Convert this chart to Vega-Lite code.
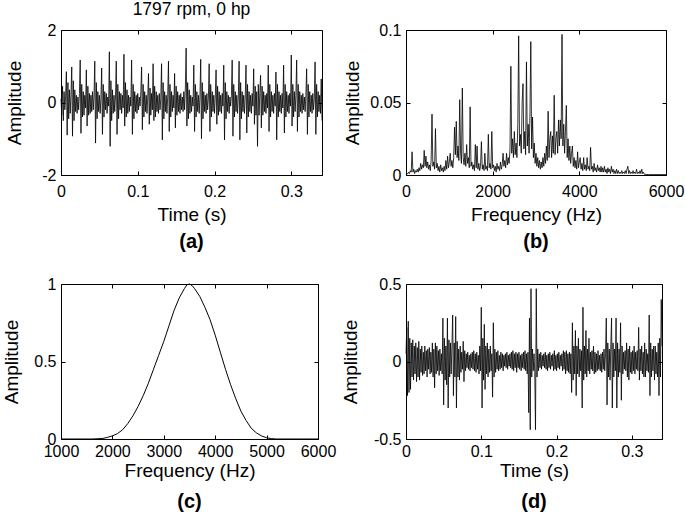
{
"$schema": "https://vega.github.io/schema/vega-lite/v6.json",
"padding": {"left": 1, "top": 0, "right": 2, "bottom": 2},
"bounds": "flush",
"columns": 2,
"spacing": {"row": 109, "column": 84},
"config": {
  "font": "Liberation Sans",
  "view": {"stroke": null},
  "axis": {"grid": false, "domainColor": "black", "domainWidth": 1, "tickColor": "black", "tickWidth": 1, "tickSize": -4,
           "labelColor": "black", "titleColor": "black", "labelFont": "Liberation Sans", "titleFont": "Liberation Sans",
           "labelFontSize": 16, "titleFontSize": 19, "titleFontWeight": "normal", "labelFlush": false, "labelOverlap": false,
           "labelExpr": "'' + datum.value"},
  "axisX": {"labelPadding": 12, "titlePadding": 6},
  "axisY": {"labelPadding": 9, "titleBaseline": "bottom"}
},
"title": {"text": "1797 rpm, 0 hp", "anchor": "start", "align": "center", "dx": 130.5, "frame": "group", "fontSize": 17.5, "fontWeight": "normal", "baseline": "alphabetic", "offset": -10, "color": "black", "font": "Liberation Sans"},
"datasets": {
"a": [{"t":0,"v":0.1},{"t":0.001,"v":-0.35},{"t":0.002,"v":0.45},{"t":0.003,"v":-0.5},{"t":0.004,"v":0.3},{"t":0.005,"v":-0.2},{"t":0.006,"v":0.15},{"t":0.007,"v":0.85},{"t":0.008,"v":-0.9},{"t":0.009,"v":0.55},
{"t":0.01,"v":-0.45},{"t":0.011,"v":0.35},{"t":0.012,"v":-0.3},{"t":0.013,"v":0.2},{"t":0.014,"v":0.98},{"t":0.015,"v":-0.93},{"t":0.016,"v":0.6},{"t":0.017,"v":-0.5},{"t":0.018,"v":0.35},{"t":0.019,"v":-0.25},
{"t":0.02,"v":0.2},{"t":0.021,"v":-0.3},{"t":0.022,"v":0.15},{"t":0.023,"v":-0.2},{"t":0.024,"v":0.25},{"t":0.025,"v":1.17},{"t":0.026,"v":-0.85},{"t":0.027,"v":0.5},{"t":0.028,"v":-0.4},{"t":0.029,"v":0.3},
{"t":0.03,"v":-0.35},{"t":0.031,"v":0.2},{"t":0.032,"v":-0.15},{"t":0.033,"v":0.9},{"t":0.034,"v":-0.65},{"t":0.035,"v":0.45},{"t":0.036,"v":-0.35},{"t":0.037,"v":0.25},{"t":0.038,"v":-0.3},{"t":0.039,"v":0.2},
{"t":0.04,"v":-0.25},{"t":0.041,"v":0.3},{"t":0.042,"v":-0.2},{"t":0.043,"v":0.15},{"t":0.044,"v":1.14},{"t":0.045,"v":-1.12},{"t":0.046,"v":0.55},{"t":0.047,"v":-0.45},{"t":0.048,"v":0.3},{"t":0.049,"v":-0.25},
{"t":0.05,"v":0.2},{"t":0.051,"v":-0.3},{"t":0.052,"v":0.1},{"t":0.053,"v":0.95},{"t":0.054,"v":-0.88},{"t":0.055,"v":0.5},{"t":0.056,"v":-0.4},{"t":0.057,"v":0.3},{"t":0.058,"v":-0.2},{"t":0.059,"v":0.25},
{"t":0.06,"v":-0.3},{"t":0.061,"v":0.15},{"t":0.062,"v":-0.1},{"t":0.063,"v":1.4},{"t":0.064,"v":-1.21},{"t":0.065,"v":0.6},{"t":0.066,"v":-0.5},{"t":0.067,"v":0.35},{"t":0.068,"v":-0.3},{"t":0.069,"v":0.2},
{"t":0.07,"v":-0.25},{"t":0.071,"v":0.15},{"t":0.072,"v":1.14},{"t":0.073,"v":-0.88},{"t":0.074,"v":0.5},{"t":0.075,"v":-0.45},{"t":0.076,"v":0.3},{"t":0.077,"v":-0.2},{"t":0.078,"v":0.25},{"t":0.079,"v":-0.3},
{"t":0.08,"v":0.2},{"t":0.081,"v":-0.15},{"t":0.082,"v":1.33},{"t":0.083,"v":-0.65},{"t":0.084,"v":0.55},{"t":0.085,"v":-0.4},{"t":0.086,"v":0.35},{"t":0.087,"v":-0.3},{"t":0.088,"v":0.2},{"t":0.089,"v":-0.25},
{"t":0.09,"v":0.15},{"t":0.091,"v":-0.1},{"t":0.092,"v":1.17},{"t":0.093,"v":-0.88},{"t":0.094,"v":0.5},{"t":0.095,"v":-0.45},{"t":0.096,"v":0.3},{"t":0.097,"v":-0.25},{"t":0.098,"v":0.2},{"t":0.099,"v":-0.3},
{"t":0.1,"v":0.25},{"t":0.101,"v":-0.2},{"t":0.102,"v":0.15},{"t":0.103,"v":-0.1},{"t":0.104,"v":0.3},{"t":0.105,"v":0.98},{"t":0.106,"v":-0.75},{"t":0.107,"v":0.5},{"t":0.108,"v":-0.4},{"t":0.109,"v":0.3},
{"t":0.11,"v":-0.25},{"t":0.111,"v":0.2},{"t":0.112,"v":-0.3},{"t":0.113,"v":0.15},{"t":0.114,"v":0.8},{"t":0.115,"v":-0.6},{"t":0.116,"v":0.4},{"t":0.117,"v":-0.35},{"t":0.118,"v":0.25},{"t":0.119,"v":-0.2},
{"t":0.12,"v":1.07},{"t":0.121,"v":-0.5},{"t":0.122,"v":0.45},{"t":0.123,"v":-0.4},{"t":0.124,"v":0.3},{"t":0.125,"v":-0.25},{"t":0.126,"v":0.2},{"t":0.127,"v":-0.3},{"t":0.128,"v":0.25},{"t":0.129,"v":-0.2},
{"t":0.13,"v":0.1},{"t":0.131,"v":1.07},{"t":0.132,"v":-1.03},{"t":0.133,"v":0.55},{"t":0.134,"v":-0.45},{"t":0.135,"v":0.3},{"t":0.136,"v":-0.25},{"t":0.137,"v":0.2},{"t":0.138,"v":-0.3},{"t":0.139,"v":0.15},
{"t":0.14,"v":1.14},{"t":0.141,"v":-0.8},{"t":0.142,"v":0.5},{"t":0.143,"v":-0.4},{"t":0.144,"v":0.3},{"t":0.145,"v":-0.25},{"t":0.146,"v":0.2},{"t":0.147,"v":-0.15},{"t":0.148,"v":0.8},{"t":0.149,"v":-0.7},
{"t":0.15,"v":0.45},{"t":0.151,"v":-0.35},{"t":0.152,"v":0.3},{"t":0.153,"v":-0.25},{"t":0.154,"v":0.2},{"t":0.155,"v":-0.3},{"t":0.156,"v":0.25},{"t":0.157,"v":-0.2},{"t":0.158,"v":0.15},{"t":0.159,"v":-0.25},
{"t":0.16,"v":0.3},{"t":0.161,"v":-0.2},{"t":0.162,"v":0.4},{"t":0.163,"v":1.5},{"t":0.164,"v":-0.65},{"t":0.165,"v":0.55},{"t":0.166,"v":-0.45},{"t":0.167,"v":0.35},{"t":0.168,"v":-0.3},{"t":0.169,"v":0.2},
{"t":0.17,"v":-0.25},{"t":0.171,"v":0.15},{"t":0.172,"v":-0.1},{"t":0.173,"v":1.03},{"t":0.174,"v":-0.8},{"t":0.175,"v":0.5},{"t":0.176,"v":-0.4},{"t":0.177,"v":0.3},{"t":0.178,"v":-0.25},{"t":0.179,"v":0.2},
{"t":0.18,"v":-0.3},{"t":0.181,"v":0.15},{"t":0.182,"v":1.19},{"t":0.183,"v":-1.0},{"t":0.184,"v":0.55},{"t":0.185,"v":-0.45},{"t":0.186,"v":0.3},{"t":0.187,"v":-0.25},{"t":0.188,"v":0.2},{"t":0.189,"v":-0.3},
{"t":0.19,"v":0.25},{"t":0.191,"v":-0.2},{"t":0.192,"v":0.1},{"t":0.193,"v":1.07},{"t":0.194,"v":-0.8},{"t":0.195,"v":0.5},{"t":0.196,"v":-0.4},{"t":0.197,"v":0.3},{"t":0.198,"v":-0.25},{"t":0.199,"v":0.2},
{"t":0.2,"v":-0.3},{"t":0.201,"v":0.15},{"t":0.202,"v":0.9},{"t":0.203,"v":-0.6},{"t":0.204,"v":0.45},{"t":0.205,"v":-0.35},{"t":0.206,"v":0.3},{"t":0.207,"v":-0.25},{"t":0.208,"v":0.2},{"t":0.209,"v":-0.3},
{"t":0.21,"v":0.25},{"t":0.211,"v":-0.1},{"t":0.212,"v":1.03},{"t":0.213,"v":-1.03},{"t":0.214,"v":0.55},{"t":0.215,"v":-0.45},{"t":0.216,"v":0.3},{"t":0.217,"v":-0.25},{"t":0.218,"v":0.2},{"t":0.219,"v":-0.3},
{"t":0.22,"v":0.15},{"t":0.221,"v":-0.1},{"t":0.222,"v":0.2},{"t":0.223,"v":1.17},{"t":0.224,"v":-0.93},{"t":0.225,"v":0.5},{"t":0.226,"v":-0.4},{"t":0.227,"v":0.3},{"t":0.228,"v":-0.25},{"t":0.229,"v":0.2},
{"t":0.23,"v":-0.3},{"t":0.231,"v":0.15},{"t":0.232,"v":1.14},{"t":0.233,"v":-1.03},{"t":0.234,"v":0.55},{"t":0.235,"v":-0.45},{"t":0.236,"v":0.3},{"t":0.237,"v":-0.25},{"t":0.238,"v":0.2},{"t":0.239,"v":-0.3},
{"t":0.24,"v":0.15},{"t":0.241,"v":1.03},{"t":0.242,"v":-0.84},{"t":0.243,"v":0.5},{"t":0.244,"v":-0.4},{"t":0.245,"v":0.3},{"t":0.246,"v":-0.25},{"t":0.247,"v":0.2},{"t":0.248,"v":-0.3},{"t":0.249,"v":0.25},
{"t":0.25,"v":-0.1},{"t":0.251,"v":0.93},{"t":0.252,"v":-0.6},{"t":0.253,"v":0.45},{"t":0.254,"v":-0.35},{"t":0.255,"v":0.3},{"t":0.256,"v":-1.21},{"t":0.257,"v":0.5},{"t":0.258,"v":-0.35},{"t":0.259,"v":0.25},
{"t":0.26,"v":0.75},{"t":0.261,"v":-0.7},{"t":0.262,"v":0.45},{"t":0.263,"v":-0.35},{"t":0.264,"v":0.3},{"t":0.265,"v":-0.25},{"t":0.266,"v":0.2},{"t":0.267,"v":-0.3},{"t":0.268,"v":0.25},{"t":0.269,"v":-0.15},
{"t":0.27,"v":1.03},{"t":0.271,"v":-0.8},{"t":0.272,"v":0.5},{"t":0.273,"v":-0.4},{"t":0.274,"v":0.3},{"t":0.275,"v":-0.25},{"t":0.276,"v":0.2},{"t":0.277,"v":-0.3},{"t":0.278,"v":0.25},{"t":0.279,"v":-0.1},
{"t":0.28,"v":0.84},{"t":0.281,"v":-1.03},{"t":0.282,"v":0.5},{"t":0.283,"v":-0.4},{"t":0.284,"v":0.3},{"t":0.285,"v":-0.25},{"t":0.286,"v":0.2},{"t":0.287,"v":-0.3},{"t":0.288,"v":0.25},{"t":0.289,"v":-0.15},
{"t":0.29,"v":1.03},{"t":0.291,"v":-0.84},{"t":0.292,"v":0.5},{"t":0.293,"v":-0.4},{"t":0.294,"v":0.3},{"t":0.295,"v":-0.25},{"t":0.296,"v":0.2},{"t":0.297,"v":-0.3},{"t":0.298,"v":0.25},{"t":0.299,"v":-0.1},
{"t":0.3,"v":1.31},{"t":0.301,"v":-0.65},{"t":0.302,"v":0.5},{"t":0.303,"v":-0.4},{"t":0.304,"v":0.3},{"t":0.305,"v":-0.25},{"t":0.306,"v":0.2},{"t":0.307,"v":1.17},{"t":0.308,"v":-0.8},{"t":0.309,"v":0.5},
{"t":0.31,"v":-0.4},{"t":0.311,"v":0.3},{"t":0.312,"v":-0.25},{"t":0.313,"v":0.2},{"t":0.314,"v":-0.3},{"t":0.315,"v":0.25},{"t":0.316,"v":-0.2},{"t":0.317,"v":0.15},{"t":0.318,"v":-0.25},{"t":0.319,"v":0.2},
{"t":0.32,"v":0.93},{"t":0.321,"v":-0.88},{"t":0.322,"v":0.5},{"t":0.323,"v":-0.4},{"t":0.324,"v":0.3},{"t":0.325,"v":-0.25},{"t":0.326,"v":0.2},{"t":0.327,"v":-0.3},{"t":0.328,"v":0.25},{"t":0.329,"v":-0.2},
{"t":0.33,"v":0.1},{"t":0.331,"v":1.12},{"t":0.332,"v":-0.88},{"t":0.333,"v":0.5},{"t":0.334,"v":-0.4},{"t":0.335,"v":0.3},{"t":0.336,"v":-0.25},{"t":0.337,"v":0.2},{"t":0.338,"v":-0.3},{"t":0.339,"v":0.65},
{"t":0.34,"v":-0.5}],
"b": [{"f":0,"v":0.0005},{"f":20,"v":0.001},{"f":40,"v":0.0008},{"f":60,"v":0.002},{"f":80,"v":0.001},{"f":100,"v":0.003},{"f":120,"v":0.002},{"f":140,"v":0.016},{"f":160,"v":0.002},{"f":180,"v":0.004},
{"f":200,"v":0.001},{"f":220,"v":0.003},{"f":240,"v":0.002},{"f":260,"v":0.004},{"f":280,"v":0.002},{"f":300,"v":0.005},{"f":320,"v":0.003},{"f":340,"v":0.008},{"f":360,"v":0.004},{"f":380,"v":0.007},
{"f":400,"v":0.005},{"f":420,"v":0.017},{"f":440,"v":0.006},{"f":460,"v":0.013},{"f":480,"v":0.005},{"f":500,"v":0.009},{"f":520,"v":0.004},{"f":540,"v":0.007},{"f":560,"v":0.003},{"f":580,"v":0.01},
{"f":600,"v":0.042},{"f":620,"v":0.006},{"f":640,"v":0.009},{"f":660,"v":0.004},{"f":680,"v":0.032},{"f":700,"v":0.005},{"f":720,"v":0.008},{"f":740,"v":0.003},{"f":760,"v":0.006},{"f":780,"v":0.002},
{"f":800,"v":0.007},{"f":820,"v":0.003},{"f":840,"v":0.005},{"f":860,"v":0.002},{"f":880,"v":0.006},{"f":900,"v":0.003},{"f":920,"v":0.01},{"f":940,"v":0.004},{"f":960,"v":0.013},{"f":980,"v":0.005},
{"f":1000,"v":0.009},{"f":1020,"v":0.015},{"f":1040,"v":0.006},{"f":1060,"v":0.01},{"f":1080,"v":0.005},{"f":1100,"v":0.012},{"f":1120,"v":0.033},{"f":1140,"v":0.014},{"f":1160,"v":0.037},{"f":1180,"v":0.012},
{"f":1200,"v":0.02},{"f":1220,"v":0.01},{"f":1240,"v":0.052},{"f":1260,"v":0.015},{"f":1280,"v":0.008},{"f":1300,"v":0.06},{"f":1320,"v":0.012},{"f":1340,"v":0.007},{"f":1360,"v":0.015},{"f":1380,"v":0.006},
{"f":1400,"v":0.021},{"f":1420,"v":0.008},{"f":1440,"v":0.012},{"f":1460,"v":0.005},{"f":1480,"v":0.047},{"f":1500,"v":0.006},{"f":1520,"v":0.009},{"f":1540,"v":0.004},{"f":1560,"v":0.007},{"f":1580,"v":0.003},
{"f":1600,"v":0.021},{"f":1620,"v":0.005},{"f":1640,"v":0.02},{"f":1660,"v":0.004},{"f":1680,"v":0.008},{"f":1700,"v":0.003},{"f":1720,"v":0.006},{"f":1740,"v":0.023},{"f":1760,"v":0.004},{"f":1780,"v":0.007},
{"f":1800,"v":0.003},{"f":1820,"v":0.015},{"f":1840,"v":0.004},{"f":1860,"v":0.006},{"f":1880,"v":0.003},{"f":1900,"v":0.028},{"f":1920,"v":0.005},{"f":1940,"v":0.008},{"f":1960,"v":0.004},{"f":1980,"v":0.03},
{"f":2000,"v":0.005},{"f":2020,"v":0.007},{"f":2040,"v":0.003},{"f":2060,"v":0.006},{"f":2080,"v":0.002},{"f":2100,"v":0.008},{"f":2120,"v":0.004},{"f":2140,"v":0.006},{"f":2160,"v":0.003},{"f":2180,"v":0.009},
{"f":2200,"v":0.004},{"f":2220,"v":0.007},{"f":2240,"v":0.015},{"f":2260,"v":0.006},{"f":2280,"v":0.01},{"f":2300,"v":0.005},{"f":2320,"v":0.015},{"f":2340,"v":0.007},{"f":2360,"v":0.012},{"f":2380,"v":0.008},
{"f":2400,"v":0.018},{"f":2420,"v":0.075},{"f":2440,"v":0.015},{"f":2460,"v":0.025},{"f":2480,"v":0.012},{"f":2500,"v":0.03},{"f":2520,"v":0.014},{"f":2540,"v":0.022},{"f":2560,"v":0.012},{"f":2580,"v":0.035},
{"f":2600,"v":0.096},{"f":2620,"v":0.02},{"f":2640,"v":0.028},{"f":2660,"v":0.015},{"f":2680,"v":0.05},{"f":2700,"v":0.063},{"f":2720,"v":0.018},{"f":2740,"v":0.03},{"f":2760,"v":0.014},{"f":2780,"v":0.078},
{"f":2800,"v":0.02},{"f":2820,"v":0.035},{"f":2840,"v":0.015},{"f":2860,"v":0.04},{"f":2880,"v":0.092},{"f":2900,"v":0.018},{"f":2920,"v":0.04},{"f":2940,"v":0.012},{"f":2960,"v":0.022},{"f":2980,"v":0.008},
{"f":3000,"v":0.015},{"f":3020,"v":0.006},{"f":3040,"v":0.012},{"f":3060,"v":0.005},{"f":3080,"v":0.01},{"f":3100,"v":0.004},{"f":3120,"v":0.009},{"f":3140,"v":0.005},{"f":3160,"v":0.012},{"f":3180,"v":0.006},
{"f":3200,"v":0.015},{"f":3220,"v":0.008},{"f":3240,"v":0.02},{"f":3260,"v":0.01},{"f":3280,"v":0.044},{"f":3300,"v":0.012},{"f":3320,"v":0.025},{"f":3340,"v":0.03},{"f":3360,"v":0.012},{"f":3380,"v":0.027},
{"f":3400,"v":0.015},{"f":3420,"v":0.055},{"f":3440,"v":0.014},{"f":3460,"v":0.025},{"f":3480,"v":0.03},{"f":3500,"v":0.015},{"f":3520,"v":0.038},{"f":3540,"v":0.02},{"f":3560,"v":0.038},{"f":3580,"v":0.025},
{"f":3600,"v":0.097},{"f":3620,"v":0.02},{"f":3640,"v":0.035},{"f":3660,"v":0.015},{"f":3680,"v":0.03},{"f":3700,"v":0.048},{"f":3720,"v":0.012},{"f":3740,"v":0.025},{"f":3760,"v":0.01},{"f":3780,"v":0.02},
{"f":3800,"v":0.008},{"f":3820,"v":0.015},{"f":3840,"v":0.02},{"f":3860,"v":0.006},{"f":3880,"v":0.012},{"f":3900,"v":0.005},{"f":3920,"v":0.01},{"f":3940,"v":0.004},{"f":3960,"v":0.016},{"f":3980,"v":0.005},
{"f":4000,"v":0.009},{"f":4020,"v":0.012},{"f":4040,"v":0.004},{"f":4060,"v":0.008},{"f":4080,"v":0.003},{"f":4100,"v":0.012},{"f":4120,"v":0.004},{"f":4140,"v":0.007},{"f":4160,"v":0.003},{"f":4180,"v":0.012},
{"f":4200,"v":0.004},{"f":4220,"v":0.006},{"f":4240,"v":0.003},{"f":4260,"v":0.019},{"f":4280,"v":0.004},{"f":4300,"v":0.006},{"f":4320,"v":0.002},{"f":4340,"v":0.008},{"f":4360,"v":0.003},{"f":4380,"v":0.005},
{"f":4400,"v":0.002},{"f":4420,"v":0.007},{"f":4440,"v":0.003},{"f":4460,"v":0.005},{"f":4480,"v":0.002},{"f":4500,"v":0.006},{"f":4520,"v":0.002},{"f":4540,"v":0.005},{"f":4560,"v":0.002},{"f":4580,"v":0.006},
{"f":4600,"v":0.002},{"f":4620,"v":0.004},{"f":4640,"v":0.001},{"f":4660,"v":0.005},{"f":4680,"v":0.002},{"f":4700,"v":0.004},{"f":4720,"v":0.001},{"f":4740,"v":0.006},{"f":4760,"v":0.002},{"f":4780,"v":0.004},
{"f":4800,"v":0.001},{"f":4820,"v":0.003},{"f":4840,"v":0.001},{"f":4860,"v":0.004},{"f":4880,"v":0.001},{"f":4900,"v":0.003},{"f":4920,"v":0.001},{"f":4940,"v":0.002},{"f":4960,"v":0.001},{"f":4980,"v":0.003},
{"f":5000,"v":0.001},{"f":5020,"v":0.002},{"f":5040,"v":0.001},{"f":5060,"v":0.003},{"f":5080,"v":0.001},{"f":5100,"v":0.004},{"f":5120,"v":0.006},{"f":5140,"v":0.001},{"f":5160,"v":0.003},{"f":5180,"v":0.001},
{"f":5200,"v":0.002},{"f":5220,"v":0.001},{"f":5240,"v":0.003},{"f":5260,"v":0.001},{"f":5280,"v":0.002},{"f":5300,"v":0.001},{"f":5320,"v":0.004},{"f":5340,"v":0.001},{"f":5360,"v":0.002},{"f":5380,"v":0.001},
{"f":5400,"v":0.003},{"f":5420,"v":0.001},{"f":5440,"v":0.004},{"f":5460,"v":0.001},{"f":5480,"v":0.002},{"f":5500,"v":0.0005},{"f":5600,"v":0.0003},{"f":6000,"v":0.0003}],
"c": [{"f":1000,"v":0},{"f":1200,"v":0},{"f":1400,"v":0},{"f":1600,"v":0},{"f":1800,"v":0.003},{"f":1900,"v":0.01},{"f":2000,"v":0.02},{"f":2100,"v":0.035},{"f":2200,"v":0.06},{"f":2300,"v":0.1},
{"f":2400,"v":0.15},{"f":2500,"v":0.21},{"f":2600,"v":0.28},{"f":2700,"v":0.36},{"f":2800,"v":0.45},{"f":2900,"v":0.54},{"f":3000,"v":0.63},{"f":3100,"v":0.73},{"f":3200,"v":0.83},{"f":3300,"v":0.91},
{"f":3400,"v":0.97},{"f":3450,"v":0.995},{"f":3500,"v":1.0},{"f":3550,"v":0.99},{"f":3600,"v":0.97},{"f":3700,"v":0.92},{"f":3800,"v":0.85},{"f":3900,"v":0.77},{"f":4000,"v":0.67},{"f":4100,"v":0.56},
{"f":4200,"v":0.45},{"f":4300,"v":0.35},{"f":4400,"v":0.26},{"f":4500,"v":0.18},{"f":4600,"v":0.12},{"f":4700,"v":0.07},{"f":4800,"v":0.04},{"f":4900,"v":0.02},{"f":5000,"v":0.008},{"f":5100,"v":0.002},
{"f":5200,"v":0},{"f":5400,"v":0},{"f":5600,"v":0},{"f":5800,"v":0},{"f":6000,"v":0}],
"d": [{"t":0,"v":0.05},{"t":0.001,"v":0.22},{"t":0.002,"v":-0.22},{"t":0.003,"v":0.26},{"t":0.004,"v":-0.2},{"t":0.005,"v":0.15},{"t":0.006,"v":-0.18},{"t":0.007,"v":0.12},{"t":0.008,"v":-0.1},{"t":0.009,"v":0.14},
{"t":0.01,"v":-0.12},{"t":0.011,"v":0.1},{"t":0.012,"v":-0.08},{"t":0.013,"v":0.12},{"t":0.014,"v":-0.13},{"t":0.015,"v":0.09},{"t":0.016,"v":-0.1},{"t":0.017,"v":0.13},{"t":0.018,"v":-0.12},{"t":0.019,"v":0.08},
{"t":0.02,"v":-0.07},{"t":0.021,"v":0.1},{"t":0.022,"v":-0.09},{"t":0.023,"v":0.06},{"t":0.024,"v":-0.08},{"t":0.025,"v":0.1},{"t":0.026,"v":-0.06},{"t":0.027,"v":0.07},{"t":0.028,"v":-0.1},{"t":0.029,"v":0.08},
{"t":0.03,"v":-0.05},{"t":0.031,"v":0.09},{"t":0.032,"v":-0.08},{"t":0.033,"v":0.06},{"t":0.034,"v":-0.07},{"t":0.035,"v":0.12},{"t":0.036,"v":-0.1},{"t":0.037,"v":0.08},{"t":0.038,"v":-0.17},{"t":0.039,"v":0.12},
{"t":0.04,"v":-0.08},{"t":0.041,"v":0.1},{"t":0.042,"v":-0.06},{"t":0.043,"v":0.07},{"t":0.044,"v":-0.09},{"t":0.045,"v":0.08},{"t":0.046,"v":-0.06},{"t":0.047,"v":0.05},{"t":0.048,"v":-0.08},{"t":0.049,"v":0.28},
{"t":0.05,"v":-0.28},{"t":0.051,"v":0.15},{"t":0.052,"v":-0.12},{"t":0.053,"v":0.1},{"t":0.054,"v":-0.15},{"t":0.055,"v":0.28},{"t":0.056,"v":-0.3},{"t":0.057,"v":0.14},{"t":0.058,"v":-0.1},{"t":0.059,"v":0.12},
{"t":0.06,"v":-0.08},{"t":0.061,"v":0.1},{"t":0.062,"v":0.3},{"t":0.063,"v":-0.22},{"t":0.064,"v":0.12},{"t":0.065,"v":-0.1},{"t":0.066,"v":0.29},{"t":0.067,"v":-0.3},{"t":0.068,"v":0.13},{"t":0.069,"v":-0.1},
{"t":0.07,"v":0.08},{"t":0.071,"v":-0.12},{"t":0.072,"v":0.1},{"t":0.073,"v":-0.07},{"t":0.074,"v":0.06},{"t":0.075,"v":-0.05},{"t":0.076,"v":0.13},{"t":0.077,"v":-0.13},{"t":0.078,"v":0.07},{"t":0.079,"v":-0.06},
{"t":0.08,"v":0.05},{"t":0.081,"v":-0.04},{"t":0.082,"v":0.06},{"t":0.083,"v":-0.05},{"t":0.084,"v":0.04},{"t":0.085,"v":-0.06},{"t":0.086,"v":0.05},{"t":0.087,"v":-0.04},{"t":0.088,"v":0.06},{"t":0.089,"v":-0.05},
{"t":0.09,"v":0.07},{"t":0.091,"v":-0.06},{"t":0.092,"v":0.05},{"t":0.093,"v":-0.07},{"t":0.094,"v":0.06},{"t":0.095,"v":-0.05},{"t":0.096,"v":0.04},{"t":0.097,"v":-0.08},{"t":0.098,"v":0.1},{"t":0.099,"v":-0.06},
{"t":0.1,"v":0.35},{"t":0.101,"v":-0.3},{"t":0.102,"v":0.15},{"t":0.103,"v":-0.12},{"t":0.104,"v":0.24},{"t":0.105,"v":-0.18},{"t":0.106,"v":0.1},{"t":0.107,"v":-0.08},{"t":0.108,"v":0.12},{"t":0.109,"v":-0.1},
{"t":0.11,"v":0.08},{"t":0.111,"v":-0.07},{"t":0.112,"v":0.1},{"t":0.113,"v":-0.06},{"t":0.114,"v":0.05},{"t":0.115,"v":-0.23},{"t":0.116,"v":0.25},{"t":0.117,"v":-0.1},{"t":0.118,"v":0.08},{"t":0.119,"v":-0.07},
{"t":0.12,"v":0.06},{"t":0.121,"v":-0.05},{"t":0.122,"v":0.07},{"t":0.123,"v":-0.06},{"t":0.124,"v":0.04},{"t":0.125,"v":-0.05},{"t":0.126,"v":0.06},{"t":0.127,"v":-0.04},{"t":0.128,"v":0.05},{"t":0.129,"v":-0.06},
{"t":0.13,"v":0.04},{"t":0.131,"v":-0.03},{"t":0.132,"v":0.05},{"t":0.133,"v":-0.04},{"t":0.134,"v":0.06},{"t":0.135,"v":-0.05},{"t":0.136,"v":0.04},{"t":0.137,"v":-0.03},{"t":0.138,"v":0.05},{"t":0.139,"v":-0.04},
{"t":0.14,"v":0.06},{"t":0.141,"v":-0.05},{"t":0.142,"v":0.07},{"t":0.143,"v":-0.06},{"t":0.144,"v":0.05},{"t":0.145,"v":-0.04},{"t":0.146,"v":0.06},{"t":0.147,"v":-0.07},{"t":0.148,"v":0.05},{"t":0.149,"v":-0.04},
{"t":0.15,"v":0.06},{"t":0.151,"v":-0.05},{"t":0.152,"v":0.04},{"t":0.153,"v":-0.06},{"t":0.154,"v":0.05},{"t":0.155,"v":-0.04},{"t":0.156,"v":0.06},{"t":0.157,"v":-0.05},{"t":0.158,"v":0.07},{"t":0.159,"v":-0.06},
{"t":0.16,"v":0.05},{"t":0.161,"v":-0.08},{"t":0.162,"v":0.06},{"t":0.163,"v":-0.33},{"t":0.164,"v":0.28},{"t":0.165,"v":-0.44},{"t":0.166,"v":0.47},{"t":0.167,"v":-0.1},{"t":0.168,"v":0.08},{"t":0.169,"v":-0.06},
{"t":0.17,"v":0.05},{"t":0.171,"v":-0.07},{"t":0.172,"v":-0.44},{"t":0.173,"v":0.47},{"t":0.174,"v":-0.1},{"t":0.175,"v":0.08},{"t":0.176,"v":-0.06},{"t":0.177,"v":0.05},{"t":0.178,"v":-0.04},{"t":0.179,"v":0.06},
{"t":0.18,"v":-0.05},{"t":0.181,"v":0.04},{"t":0.182,"v":-0.03},{"t":0.183,"v":0.05},{"t":0.184,"v":-0.04},{"t":0.185,"v":0.06},{"t":0.186,"v":-0.05},{"t":0.187,"v":0.04},{"t":0.188,"v":-0.06},{"t":0.189,"v":0.05},
{"t":0.19,"v":-0.04},{"t":0.191,"v":0.06},{"t":0.192,"v":-0.05},{"t":0.193,"v":0.04},{"t":0.194,"v":-0.03},{"t":0.195,"v":0.05},{"t":0.196,"v":-0.06},{"t":0.197,"v":0.07},{"t":0.198,"v":-0.05},{"t":0.199,"v":0.04},
{"t":0.2,"v":-0.06},{"t":0.201,"v":0.05},{"t":0.202,"v":-0.04},{"t":0.203,"v":0.06},{"t":0.204,"v":-0.05},{"t":0.205,"v":0.04},{"t":0.206,"v":-0.03},{"t":0.207,"v":0.05},{"t":0.208,"v":-0.06},{"t":0.209,"v":0.07},
{"t":0.21,"v":-0.05},{"t":0.211,"v":0.06},{"t":0.212,"v":-0.08},{"t":0.213,"v":0.07},{"t":0.214,"v":-0.06},{"t":0.215,"v":0.05},{"t":0.216,"v":-0.07},{"t":0.217,"v":0.06},{"t":0.218,"v":-0.08},{"t":0.219,"v":0.05},
{"t":0.22,"v":-0.2},{"t":0.221,"v":0.25},{"t":0.222,"v":-0.12},{"t":0.223,"v":0.1},{"t":0.224,"v":-0.08},{"t":0.225,"v":0.2},{"t":0.226,"v":-0.22},{"t":0.227,"v":0.1},{"t":0.228,"v":-0.08},{"t":0.229,"v":0.15},
{"t":0.23,"v":-0.1},{"t":0.231,"v":0.08},{"t":0.232,"v":-0.06},{"t":0.233,"v":0.07},{"t":0.234,"v":-0.3},{"t":0.235,"v":0.35},{"t":0.236,"v":-0.12},{"t":0.237,"v":0.1},{"t":0.238,"v":-0.08},{"t":0.239,"v":0.2},
{"t":0.24,"v":-0.1},{"t":0.241,"v":0.08},{"t":0.242,"v":-0.06},{"t":0.243,"v":0.15},{"t":0.244,"v":-0.08},{"t":0.245,"v":0.06},{"t":0.246,"v":-0.05},{"t":0.247,"v":0.07},{"t":0.248,"v":-0.06},{"t":0.249,"v":0.1},
{"t":0.25,"v":-0.08},{"t":0.251,"v":0.06},{"t":0.252,"v":-0.07},{"t":0.253,"v":0.05},{"t":0.254,"v":-0.06},{"t":0.255,"v":0.07},{"t":0.256,"v":-0.05},{"t":0.257,"v":0.04},{"t":0.258,"v":-0.06},{"t":0.259,"v":0.05},
{"t":0.26,"v":-0.07},{"t":0.261,"v":0.06},{"t":0.262,"v":-0.05},{"t":0.263,"v":0.08},{"t":0.264,"v":-0.06},{"t":0.265,"v":0.05},{"t":0.266,"v":0.28},{"t":0.267,"v":-0.28},{"t":0.268,"v":0.12},{"t":0.269,"v":-0.1},
{"t":0.27,"v":0.08},{"t":0.271,"v":-0.12},{"t":0.272,"v":0.1},{"t":0.273,"v":0.28},{"t":0.274,"v":-0.3},{"t":0.275,"v":0.12},{"t":0.276,"v":-0.1},{"t":0.277,"v":0.08},{"t":0.278,"v":-0.06},{"t":0.279,"v":0.28},
{"t":0.28,"v":-0.3},{"t":0.281,"v":0.12},{"t":0.282,"v":-0.1},{"t":0.283,"v":0.08},{"t":0.284,"v":-0.07},{"t":0.285,"v":0.25},{"t":0.286,"v":-0.25},{"t":0.287,"v":0.1},{"t":0.288,"v":-0.08},{"t":0.289,"v":0.06},
{"t":0.29,"v":-0.05},{"t":0.291,"v":0.07},{"t":0.292,"v":-0.06},{"t":0.293,"v":0.12},{"t":0.294,"v":-0.1},{"t":0.295,"v":0.08},{"t":0.296,"v":-0.12},{"t":0.297,"v":0.1},{"t":0.298,"v":-0.07},{"t":0.299,"v":0.06},
{"t":0.3,"v":-0.08},{"t":0.301,"v":0.07},{"t":0.302,"v":-0.06},{"t":0.303,"v":0.1},{"t":0.304,"v":-0.08},{"t":0.305,"v":0.06},{"t":0.306,"v":-0.05},{"t":0.307,"v":0.07},{"t":0.308,"v":-0.06},{"t":0.309,"v":0.22},
{"t":0.31,"v":-0.12},{"t":0.311,"v":0.08},{"t":0.312,"v":-0.06},{"t":0.313,"v":0.1},{"t":0.314,"v":-0.08},{"t":0.315,"v":0.06},{"t":0.316,"v":-0.1},{"t":0.317,"v":0.12},{"t":0.318,"v":-0.1},{"t":0.319,"v":0.08},
{"t":0.32,"v":-0.06},{"t":0.321,"v":0.05},{"t":0.322,"v":-0.07},{"t":0.323,"v":0.3},{"t":0.324,"v":-0.22},{"t":0.325,"v":0.12},{"t":0.326,"v":-0.1},{"t":0.327,"v":0.08},{"t":0.328,"v":-0.06},{"t":0.329,"v":0.1},
{"t":0.33,"v":-0.12},{"t":0.331,"v":0.1},{"t":0.332,"v":-0.08},{"t":0.333,"v":0.06},{"t":0.334,"v":-0.1},{"t":0.335,"v":0.12},{"t":0.336,"v":-0.22},{"t":0.337,"v":0.15},{"t":0.338,"v":-0.1},{"t":0.339,"v":0.4},
{"t":0.34,"v":0.1}]
},
"concat": [
  {"width": 261, "height": 145, "data": {"name": "a"},
   "title": {"text": "(a)", "orient": "bottom", "fontWeight": "bold", "fontSize": 20, "offset": 8, "color": "black", "font": "Liberation Sans"},
   "layer": [
    {"mark": {"type": "line", "color": "black", "strokeWidth": 0.8},
     "encoding": {
      "x": {"field": "t", "type": "quantitative", "scale": {"domain": [0, 0.34], "nice": false}, "axis": {"title": "Time (s)", "values": [0, 0.1, 0.2, 0.3]}},
      "y": {"field": "v", "type": "quantitative", "scale": {"domain": [-2, 2], "nice": false}, "axis": {"title": "Amplitude", "values": [-2, 0, 2], "titleX": -37}}}},
    {"mark": {"type": "point", "opacity": 0},
     "encoding": {
      "x": {"field": "t", "type": "quantitative", "axis": {"orient": "top", "labels": false, "title": null, "values": [0, 0.1, 0.2, 0.3]}},
      "y": {"field": "v", "type": "quantitative", "axis": {"orient": "right", "labels": false, "title": null, "values": [-2, 0, 2]}}}}
   ],
   "resolve": {"axis": {"x": "independent", "y": "independent"}}},
  {"width": 260, "height": 145, "data": {"name": "b"},
   "title": {"text": "(b)", "orient": "bottom", "fontWeight": "bold", "fontSize": 20, "offset": 8, "color": "black", "font": "Liberation Sans"},
   "layer": [
    {"mark": {"type": "line", "color": "black", "strokeWidth": 0.8},
     "encoding": {
      "x": {"field": "f", "type": "quantitative", "scale": {"domain": [0, 6000], "nice": false}, "axis": {"title": "Frequency (Hz)", "values": [0, 2000, 4000, 6000]}},
      "y": {"field": "v", "type": "quantitative", "scale": {"domain": [0, 0.1], "nice": false}, "axis": {"title": "Amplitude", "values": [0, 0.05, 0.1], "titleX": -44}}}},
    {"mark": {"type": "point", "opacity": 0},
     "encoding": {
      "x": {"field": "f", "type": "quantitative", "axis": {"orient": "top", "labels": false, "title": null, "values": [0, 2000, 4000, 6000]}},
      "y": {"field": "v", "type": "quantitative", "axis": {"orient": "right", "labels": false, "title": null, "values": [0, 0.05, 0.1]}}}}
   ],
   "resolve": {"axis": {"x": "independent", "y": "independent"}}},
  {"width": 257, "height": 155, "data": {"name": "c"},
   "title": {"text": "(c)", "orient": "bottom", "fontWeight": "bold", "fontSize": 20, "offset": 12, "color": "black", "font": "Liberation Sans"},
   "layer": [
    {"mark": {"type": "line", "color": "black", "strokeWidth": 1},
     "encoding": {
      "x": {"field": "f", "type": "quantitative", "scale": {"domain": [1000, 6000], "nice": false, "zero": false}, "axis": {"title": "Frequency (Hz)", "values": [1000, 2000, 3000, 4000, 5000, 6000], "labelPadding": 8, "titlePadding": 2}},
      "y": {"field": "v", "type": "quantitative", "scale": {"domain": [0, 1], "nice": false}, "axis": {"title": "Amplitude", "values": [0, 0.5, 1], "titleX": -40}}}},
    {"mark": {"type": "point", "opacity": 0},
     "encoding": {
      "x": {"field": "f", "type": "quantitative", "axis": {"orient": "top", "labels": false, "title": null, "values": [1000, 2000, 3000, 4000, 5000, 6000]}},
      "y": {"field": "v", "type": "quantitative", "axis": {"orient": "right", "labels": false, "title": null, "values": [0, 0.5, 1]}}}}
   ],
   "resolve": {"axis": {"x": "independent", "y": "independent"}}},
  {"width": 256, "height": 155, "data": {"name": "d"},
   "title": {"text": "(d)", "orient": "bottom", "fontWeight": "bold", "fontSize": 20, "offset": 12, "color": "black", "font": "Liberation Sans"},
   "layer": [
    {"mark": {"type": "line", "color": "black", "strokeWidth": 0.8},
     "encoding": {
      "x": {"field": "t", "type": "quantitative", "scale": {"domain": [0, 0.34], "nice": false}, "axis": {"title": "Time (s)", "values": [0, 0.1, 0.2, 0.3], "labelPadding": 8, "titlePadding": 2}},
      "y": {"field": "v", "type": "quantitative", "scale": {"domain": [-0.5, 0.5], "nice": false}, "axis": {"title": "Amplitude", "values": [-0.5, 0, 0.5], "titleX": -46}}}},
    {"mark": {"type": "point", "opacity": 0},
     "encoding": {
      "x": {"field": "t", "type": "quantitative", "axis": {"orient": "top", "labels": false, "title": null, "values": [0, 0.1, 0.2, 0.3]}},
      "y": {"field": "v", "type": "quantitative", "axis": {"orient": "right", "labels": false, "title": null, "values": [-0.5, 0, 0.5]}}}}
   ],
   "resolve": {"axis": {"x": "independent", "y": "independent"}}}
]
}
